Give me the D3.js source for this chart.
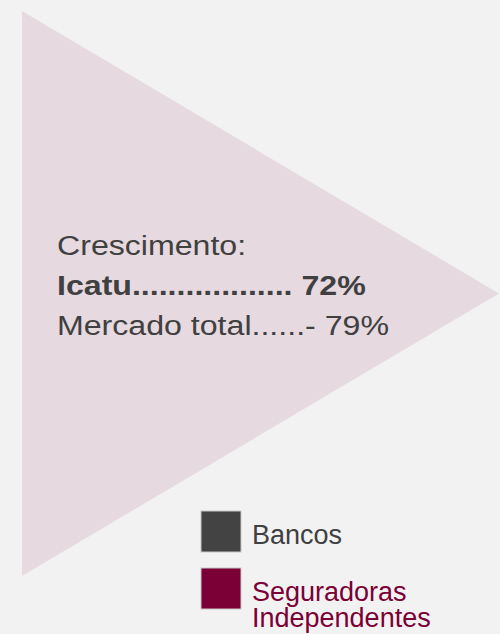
<!DOCTYPE html>
<html>
<head>
<meta charset="utf-8">
<script src="https://cdn.jsdelivr.net/npm/d3@7"></script>
<style>
  html, body { margin: 0; padding: 0; background: #f2f2f2; }
  svg { display: block; }
</style>
</head>
<body>
<script>
// ---- data ----
const triangleShape = [[0, 0], [1, 0.5], [0, 1]];
const headline = "Crescimento:";
const growthLabels = ["Icatu", "Mercado total"];
const growthDots = [18, 6];
const growthValues = ["72%", "- 79%"];
const growthBold = [true, false];
const legendLabels = [["Bancos"], ["Seguradoras", "Independentes"]];
const legendColors = ["#434343", "#7b0035"];
const legendTextColors = ["#404040", "#7b0035"];

// ---- drawing ----
const W = 500, H = 634;
const svg = d3.select("body").append("svg").attr("width", W).attr("height", H);
svg.append("rect").attr("width", W).attr("height", H).attr("fill", "#f2f2f2");

const x = d3.scaleLinear().domain([0, 1]).range([22, 499]);
const y = d3.scaleLinear().domain([0, 1]).range([11, 576]);

svg.append("path")
  .attr("d", d3.line().x(d => x(d[0])).y(d => y(d[1])).curve(d3.curveLinearClosed)(triangleShape))
  .attr("fill", "#e6d9df");

const font = "'Liberation Sans', Arial, sans-serif";
const lineY = d3.scalePoint().domain([0, 1, 2]).range([255, 335]);

const txt = svg.append("g").attr("transform", "translate(57,0) scale(1.19,1)")
  .attr("font-family", font).attr("font-size", 27).attr("fill", "#404040");

txt.append("text").attr("x", 0).attr("y", lineY(0)).text(headline);

txt.selectAll("text.g").data(growthLabels).join("text")
  .attr("class", "g")
  .attr("x", 0)
  .attr("y", (d, i) => lineY(i + 1))
  .attr("font-weight", (d, i) => growthBold[i] ? "bold" : "normal")
  .text((d, i) => d + ".".repeat(growthDots[i]) + (growthBold[i] ? " " : "") + growthValues[i]);

// legend
const legY = d3.scalePoint().domain([0, 1]).range([511, 568]);
const leg = svg.append("g").attr("font-family", font).attr("font-size", 27);
legendLabels.forEach((lines, i) => {
  leg.append("rect")
    .attr("x", 201).attr("y", legY(i))
    .attr("width", 40).attr("height", 41)
    .attr("fill", legendColors[i])
    .attr("stroke", "#c8c8c8").attr("stroke-width", 1);
  const t = leg.append("text")
    .attr("x", 252).attr("y", legY(i) + 33)
    .attr("fill", legendTextColors[i]);
  lines.forEach((l, j) => {
    t.append("tspan").attr("x", 252).attr("dy", j === 0 ? 0 : 25.5).text(l);
  });
});
</script>
</body>
</html>
